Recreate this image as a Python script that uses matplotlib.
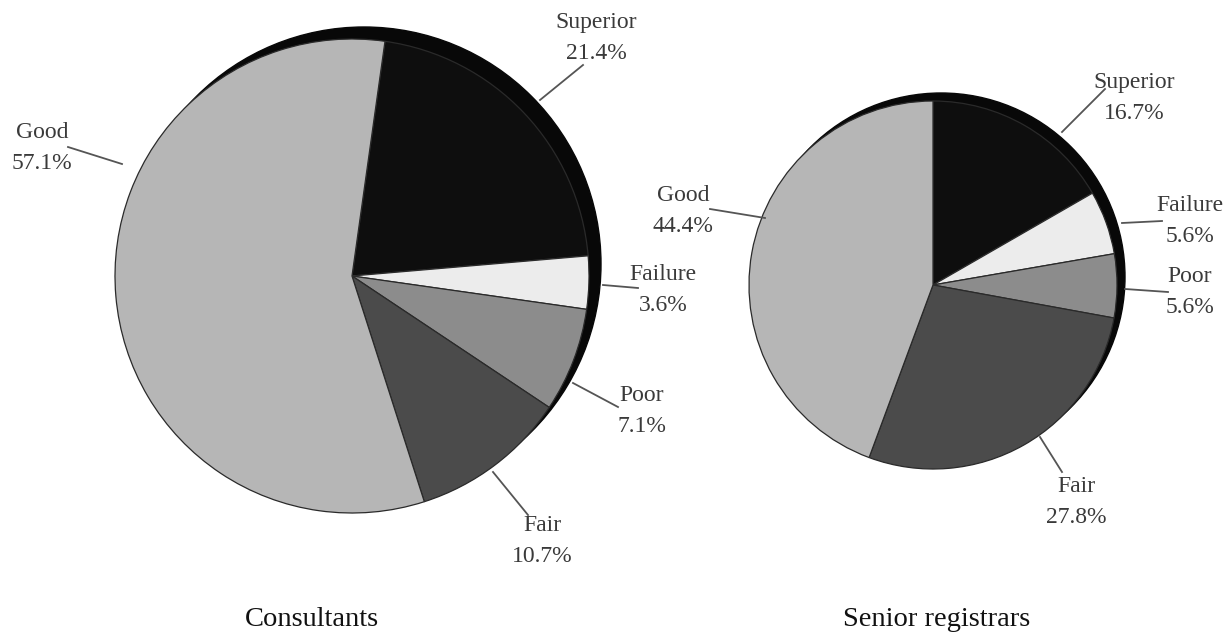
#!/usr/bin/env python3
"""
Two pie charts of rating distributions: consultants vs senior registrars.
"""

import matplotlib
matplotlib.use('Agg')
import matplotlib.pyplot as plt
from matplotlib.patches import Circle

# --- data -----------------------------------------------------------------
categories = ['Superior', 'Failure', 'Poor', 'Fair', 'Good']
consultants_pct = [21.4, 3.6, 7.1, 10.7, 57.1]
registrars_pct = [16.7, 5.6, 5.6, 27.8, 44.4]
group_titles = ['Consultants', 'Senior registrars']

slice_colors = {
    'Superior': '#0e0e0e',
    'Failure': '#ececec',
    'Poor': '#8c8c8c',
    'Fair': '#4b4b4b',
    'Good': '#b6b6b6',
}

W, H = 1231, 632


def px(x, y):
    """Pixel coords (origin top-left) -> data coords (origin bottom-left)."""
    return x, H - y


def draw_pie(ax, values, center, radius, start, rim):
    cx, cy = px(*center)
    # dark rim behind the pie, shifted up-right
    ax.add_patch(Circle((cx + rim, cy + rim), radius, color='#080808', zorder=1))
    wedges, _ = ax.pie(values, colors=[slice_colors[c] for c in categories],
                       startangle=start, counterclock=False,
                       center=(cx, cy), radius=radius, normalize=True,
                       wedgeprops=dict(edgecolor='#2a2a2a', linewidth=0.9))
    for w in wedges:
        w.set_zorder(2)
    return wedges


def draw_labels(ax, values, layout):
    for cat, val in zip(categories, values):
        text_xy, line_from, line_to = layout[cat]
        x0, y0 = px(*line_from)
        x1, y1 = px(*line_to)
        ax.plot([x0, x1], [y0, y1], color='#555555', lw=1.3, zorder=3)
        tx, ty = px(*text_xy)
        ax.text(tx, ty, f'{cat}\n{val}%', ha='center', va='center',
                fontsize=17, family='Liberation Serif', color='#3a3a3a',
                linespacing=1.6, zorder=4)


# label placement: text centre, leader start, leader end (pixels)
left_layout = {
    'Superior': ((596, 38), (540, 100), (583, 65)),
    'Failure': ((663, 290), (603, 285), (638, 288)),
    'Poor': ((642, 411), (573, 383), (618, 407)),
    'Fair': ((542, 541), (493, 472), (528, 515)),
    'Good': ((42, 148), (68, 147), (122, 164)),
}
right_layout = {
    'Superior': ((1134, 98), (1062, 132), (1105, 89)),
    'Failure': ((1190, 221), (1122, 223), (1162, 221)),
    'Poor': ((1190, 292), (1125, 289), (1168, 292)),
    'Fair': ((1076, 502), (1040, 437), (1062, 472)),
    'Good': ((683, 211), (710, 209), (765, 218)),
}


def main():
    fig = plt.figure(figsize=(W / 100, H / 100), dpi=100)
    ax = fig.add_axes([0, 0, 1, 1])

    draw_pie(ax, consultants_pct, (352, 276), 237, 82, 12)
    draw_pie(ax, registrars_pct, (933, 285), 184, 90, 8)
    draw_labels(ax, consultants_pct, left_layout)
    draw_labels(ax, registrars_pct, right_layout)

    for title, x in zip(group_titles, (312, 937)):
        tx, ty = px(x, 619)
        ax.text(tx, ty, title, ha='center', va='center', fontsize=20.5,
                family='Liberation Serif', color='#111111')

    ax.set_xlim(0, W)
    ax.set_ylim(0, H)
    ax.set_aspect('equal')
    ax.axis('off')

    fig.savefig('out.png', dpi=100, facecolor='white')


if __name__ == '__main__':
    main()
